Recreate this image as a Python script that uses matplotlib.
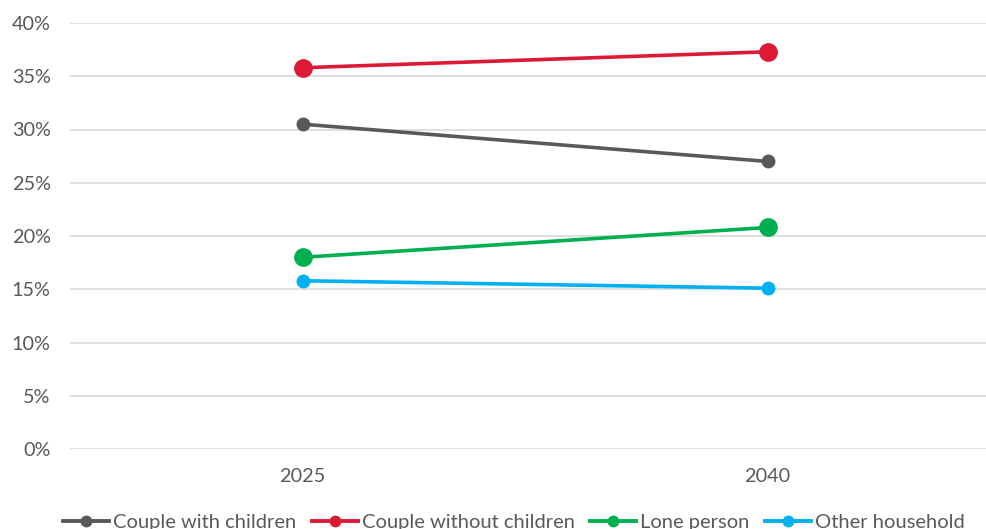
import matplotlib
matplotlib.use("Agg")
import matplotlib.pyplot as plt
from matplotlib.lines import Line2D
from matplotlib.ticker import PercentFormatter, MultipleLocator

plt.rcParams['font.family'] = ['Lato', 'DejaVu Sans']

years = ["2025", "2040"]
couple_with_children = [30.5, 27.0]
couple_without_children = [35.8, 37.3]
lone_person = [18.0, 20.8]
other_household = [15.8, 15.1]

series = [
    ("Couple with children", couple_with_children, "#595959", 9),
    ("Couple without children", couple_without_children, "#DC1A35", 12.5),
    ("Lone person", lone_person, "#00B050", 12.5),
    ("Other household", other_household, "#00B0F0", 9),
]

fig = plt.figure(figsize=(9.87, 5.29), dpi=100)
ax = fig.add_axes([70 / 987, 1 - 449 / 529, 930 / 987, 426 / 529])

x = list(range(len(years)))
handles = []
for name, vals, color, ms in series:
    ax.plot(x, vals, color=color, lw=2.6, marker="o", markersize=ms,
            solid_capstyle="round", zorder=3)
    handles.append(Line2D([0], [0], color=color, lw=2.8, marker="o",
                          markersize=7.5, label=name))

ax.set_xlim(-0.5, 1.5)
ax.set_ylim(0, 40)
ax.set_xticks(x)
ax.set_xticklabels(years)
ax.yaxis.set_major_locator(MultipleLocator(5))
ax.yaxis.set_major_formatter(PercentFormatter(decimals=0))
ax.grid(axis="y", color="#D9D9D9", lw=1.2)
ax.set_axisbelow(True)
for s in ax.spines.values():
    s.set_visible(False)
ax.tick_params(length=0, labelsize=14.3, colors="#595959")
ax.tick_params(axis="y", pad=14)
ax.tick_params(axis="x", pad=14)

fig.legend(handles=handles, loc="center", bbox_to_anchor=(514 / 987, 1 - 522 / 529),
           ncol=4, frameon=False, fontsize=14.5, labelcolor="#595959",
           handlelength=2.3, handletextpad=0.2, columnspacing=0.75,
           borderaxespad=0, borderpad=0)

fig.savefig("out.png", dpi=100)
